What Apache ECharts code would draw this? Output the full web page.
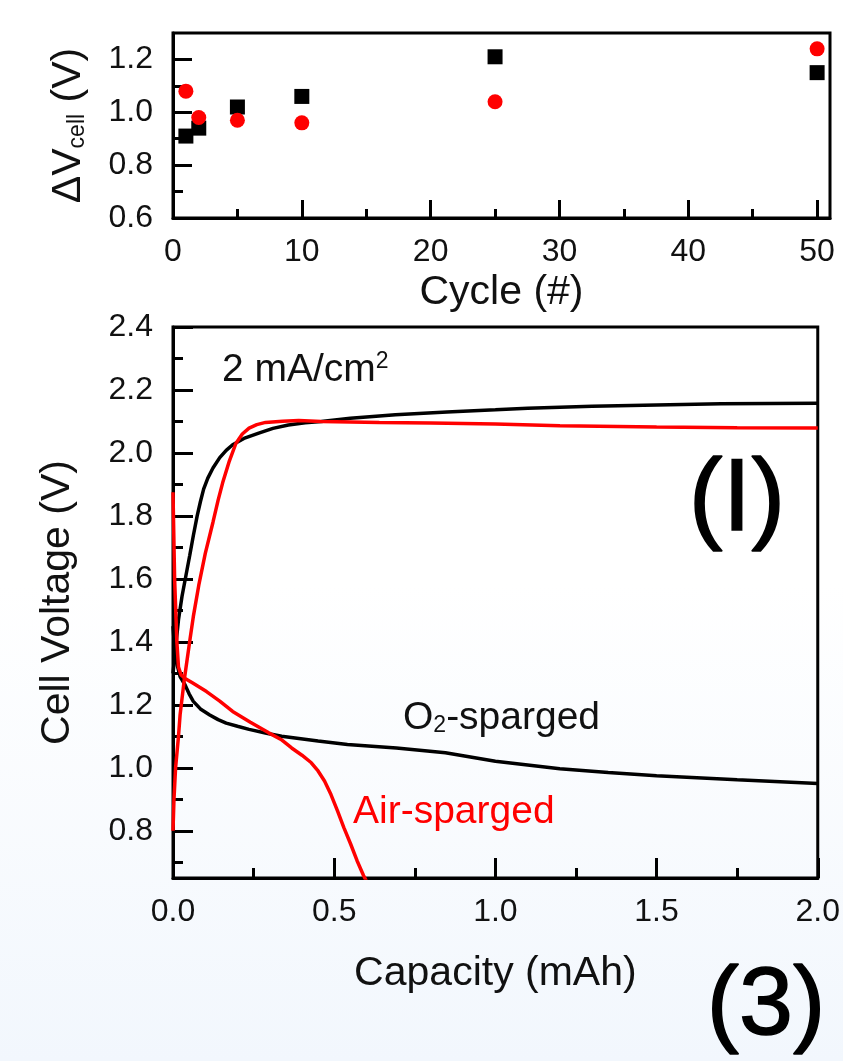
<!DOCTYPE html>
<html>
<head>
<meta charset="utf-8">
<script src="https://cdn.jsdelivr.net/npm/echarts@6/dist/echarts.min.js"></script>
<style>
html,body{margin:0;padding:0;}
body{width:843px;height:1061px;background:linear-gradient(to bottom,#ffffff 0%,#ffffff 55%,#f2f7fd 100%);}
#c{width:843px;height:1061px;}
</style>
</head>
<body>
<div id="c"></div>
<script>
// ---------- DATA ----------
const cycles = [1, 2, 5, 10, 25, 50];
const dvO2 = [0.91, 0.94, 1.02, 1.06, 1.21, 1.15];
const dvAir = [1.08, 0.98, 0.97, 0.96, 1.04, 1.24];

const o2ChargeCap = [0, 0.008, 0.017, 0.028, 0.04, 0.052, 0.063, 0.075, 0.085, 0.095, 0.108, 0.124, 0.145, 0.165, 0.185, 0.22, 0.266, 0.31, 0.358, 0.41, 0.46, 0.55, 0.69, 0.85, 1.0, 1.1, 1.3, 1.5, 1.7, 1.85, 2.0];
const o2ChargeV = [1.30, 1.38, 1.47, 1.545, 1.61, 1.675, 1.737, 1.80, 1.845, 1.885, 1.92, 1.952, 1.985, 2.008, 2.026, 2.046, 2.063, 2.078, 2.089, 2.096, 2.10, 2.11, 2.121, 2.13, 2.137, 2.142, 2.148, 2.152, 2.156, 2.157, 2.158];

const o2DischCap = [0, 0.005, 0.012, 0.022, 0.0375, 0.05, 0.063, 0.085, 0.114, 0.14, 0.165, 0.2, 0.236, 0.29, 0.337, 0.45, 0.541, 0.693, 0.845, 1.0, 1.2, 1.35, 1.5, 1.75, 2.0];
const o2DischV = [1.45, 1.38, 1.33, 1.29, 1.263, 1.235, 1.211, 1.187, 1.168, 1.153, 1.142, 1.132, 1.122, 1.11, 1.10, 1.085, 1.074, 1.063, 1.048, 1.021, 0.997, 0.985, 0.975, 0.962, 0.95];

const airChargeCap = [0, 0.003, 0.008, 0.017, 0.022, 0.035, 0.053, 0.063, 0.08, 0.1, 0.124, 0.14, 0.154, 0.175, 0.195, 0.215, 0.236, 0.26, 0.287, 0.34, 0.39, 0.46, 0.64, 0.8, 1.0, 1.2, 1.5, 1.75, 2.0];
const airChargeV = [0.80, 0.90, 1.0, 1.10, 1.168, 1.28, 1.41, 1.48, 1.58, 1.68, 1.78, 1.85, 1.905, 1.975, 2.03, 2.06, 2.079, 2.09, 2.097, 2.101, 2.103, 2.10, 2.097, 2.095, 2.092, 2.086, 2.082, 2.08, 2.079];

const airDischCap = [0, 0.005, 0.012, 0.017, 0.025, 0.0375, 0.06, 0.104, 0.145, 0.185, 0.24, 0.297, 0.335, 0.368, 0.4, 0.429, 0.45, 0.47, 0.49, 0.51, 0.53, 0.551, 0.571, 0.591, 0.6];
const airDischV = [1.875, 1.60, 1.40, 1.32, 1.295, 1.284, 1.27, 1.242, 1.212, 1.179, 1.145, 1.111, 1.09, 1.063, 1.04, 1.016, 0.99, 0.958, 0.915, 0.864, 0.81, 0.758, 0.705, 0.658, 0.64];

// tick labels
const topXTicks = [0, 10, 20, 30, 40, 50];
const topXMinor = [5, 15, 25, 35, 45];
const topYTicks = [0.6, 0.8, 1.0, 1.2];
const topYMinor = [0.7, 0.9, 1.1];
const botXTicks = [0, 0.5, 1.0, 1.5, 2.0];
const botXMinor = [0.25, 0.75, 1.25, 1.75];
const botYTicks = [0.8, 1.0, 1.2, 1.4, 1.6, 1.8, 2.0, 2.2, 2.4];
const botYMinor = [0.7, 0.9, 1.1, 1.3, 1.5, 1.7, 1.9, 2.1, 2.3];

// ---------- CHART ----------
const FONT = '"Liberation Sans", Arial, sans-serif';
const BIG = '"Liberation Sans", Arial, sans-serif';
const TICKFS = 32;
const NAMEFS = 41;
const zip = (a, b) => a.map((v, i) => [v, b[i]]);

function labelCfg(ticks, fmt, margin) {
  return {show: true, customValues: ticks, formatter: fmt, fontSize: TICKFS, fontFamily: FONT, color: '#111', margin};
}
function majorAxis(gridIndex, min, max, ticks, len, extra) {
  return Object.assign({
    type: 'value', gridIndex, min, max,
    splitLine: {show: false},
    axisLine: {show: true, onZero: false, lineStyle: {color: '#000', width: 3}},
    axisTick: {show: true, inside: true, length: len, customValues: ticks, lineStyle: {color: '#000', width: 3}},
    minorTick: {show: false}
  }, extra);
}
function minorAxis(gridIndex, min, max, ticks, len, extra) {
  return Object.assign({
    type: 'value', gridIndex, min, max,
    splitLine: {show: false},
    axisLine: {show: false, onZero: false},
    axisTick: {show: true, inside: true, length: len, customValues: ticks, lineStyle: {color: '#000', width: 3}},
    axisLabel: {show: false}
  }, extra);
}

const chart = echarts.init(document.getElementById('c'), null, {renderer: 'canvas'});
const nameStyle = {fontSize: NAMEFS, fontFamily: FONT, color: '#111'};

chart.setOption({
  backgroundColor: 'transparent',
  animation: false,
  grid: [
    {left: 173, right: 13, top: 33, bottom: 843, show: true, borderColor: '#000', borderWidth: 3, backgroundColor: 'transparent'},
    {left: 173, right: 15, top: 327, bottom: 183, show: true, borderColor: '#000', borderWidth: 3, backgroundColor: 'transparent'}
  ],
  xAxis: [
    majorAxis(0, 0, 51, topXTicks, 18, {
      position: 'bottom', name: 'Cycle (#)', nameLocation: 'middle', nameGap: 54, nameTextStyle: nameStyle,
      axisLabel: labelCfg(topXTicks, v => String(v), 18)
    }),
    minorAxis(0, 0, 51, topXMinor, 9, {position: 'bottom'}),
    majorAxis(1, 0, 2.0, botXTicks, 20, {
      position: 'bottom', name: 'Capacity (mAh)', nameLocation: 'middle', nameGap: 75, nameTextStyle: nameStyle,
      axisLabel: labelCfg(botXTicks, v => v.toFixed(1), 18)
    }),
    minorAxis(1, 0, 2.0, botXMinor, 10, {position: 'bottom'})
  ],
  yAxis: [
    majorAxis(0, 0.6, 1.3, topYTicks, 19, {
      position: 'left', name: 'ΔV{s|cell} (V)', nameLocation: 'middle', nameGap: 84,
      nameTextStyle: {fontSize: NAMEFS, fontFamily: FONT, color: '#111',
        rich: {s: {fontSize: 23, fontFamily: FONT, color: '#111', verticalAlign: 'bottom'}}},
      axisLabel: labelCfg(topYTicks, v => v.toFixed(1), 20)
    }),
    minorAxis(0, 0.6, 1.3, topYMinor, 10, {position: 'left'}),
    majorAxis(1, 0.65, 2.4, botYTicks, 20, {
      position: 'left', name: 'Cell Voltage (V)', nameLocation: 'middle', nameGap: 95, nameTextStyle: nameStyle,
      axisLabel: labelCfg(botYTicks, v => v.toFixed(1), 20)
    }),
    minorAxis(1, 0.65, 2.4, botYMinor, 10, {position: 'left'})
  ],
  series: [
    {type: 'scatter', xAxisIndex: 0, yAxisIndex: 0, data: zip(cycles, dvO2), symbol: 'rect', symbolSize: 15, itemStyle: {color: '#000', opacity: 1}, z: 3},
    {type: 'scatter', xAxisIndex: 0, yAxisIndex: 0, data: zip(cycles, dvAir), symbol: 'circle', symbolSize: 15, itemStyle: {color: '#ff0000', opacity: 1}, z: 4},
    {type: 'line', xAxisIndex: 2, yAxisIndex: 2, data: zip(o2ChargeCap, o2ChargeV), showSymbol: false, clip: true, lineStyle: {color: '#000', width: 3.5}, z: 3},
    {type: 'line', xAxisIndex: 2, yAxisIndex: 2, data: zip(o2DischCap, o2DischV), showSymbol: false, clip: true, lineStyle: {color: '#000', width: 3.5}, z: 3},
    {type: 'line', xAxisIndex: 2, yAxisIndex: 2, data: zip(airChargeCap, airChargeV), showSymbol: false, clip: true, lineStyle: {color: '#ff0000', width: 3.5}, z: 4},
    {type: 'line', xAxisIndex: 2, yAxisIndex: 2, data: zip(airDischCap, airDischV), showSymbol: false, clip: true, lineStyle: {color: '#ff0000', width: 3.5}, z: 4}
  ],
  graphic: [
    {type: 'text', x: 222, y: 370, z: 10, style: {
      text: '{m|2 mA/cm}{p|2}', verticalAlign: 'middle', align: 'left',
      rich: {m: {fontSize: 39, fontFamily: FONT, fill: '#111'}, p: {fontSize: 23, fontFamily: FONT, fill: '#111', verticalAlign: 'top'}}}},
    {type: 'text', x: 403, y: 718, z: 10, style: {
      text: '{m|O}{s|2}{m|-sparged}', verticalAlign: 'middle', align: 'left',
      rich: {m: {fontSize: 39, fontFamily: FONT, fill: '#111'}, s: {fontSize: 23, fontFamily: FONT, fill: '#111', verticalAlign: 'bottom'}}}},
    {type: 'text', x: 353, y: 812, z: 10, style: {
      text: 'Air-sparged', fontSize: 39, fontFamily: FONT, fill: '#ff0000', verticalAlign: 'middle', align: 'left'}},
    {type: 'text', x: 737, y: 502, z: 10, style: {
      text: '(I)', fontSize: 102, fontFamily: BIG, fill: '#000', stroke: '#000', lineWidth: 1.5, verticalAlign: 'middle', align: 'center'}},
    {type: 'text', x: 766, y: 1007, z: 10, style: {
      text: '(3)', fontSize: 97, fontFamily: BIG, fill: '#000', stroke: '#000', lineWidth: 1.5, verticalAlign: 'middle', align: 'center'}}
  ]
});
</script>
</body>
</html>
